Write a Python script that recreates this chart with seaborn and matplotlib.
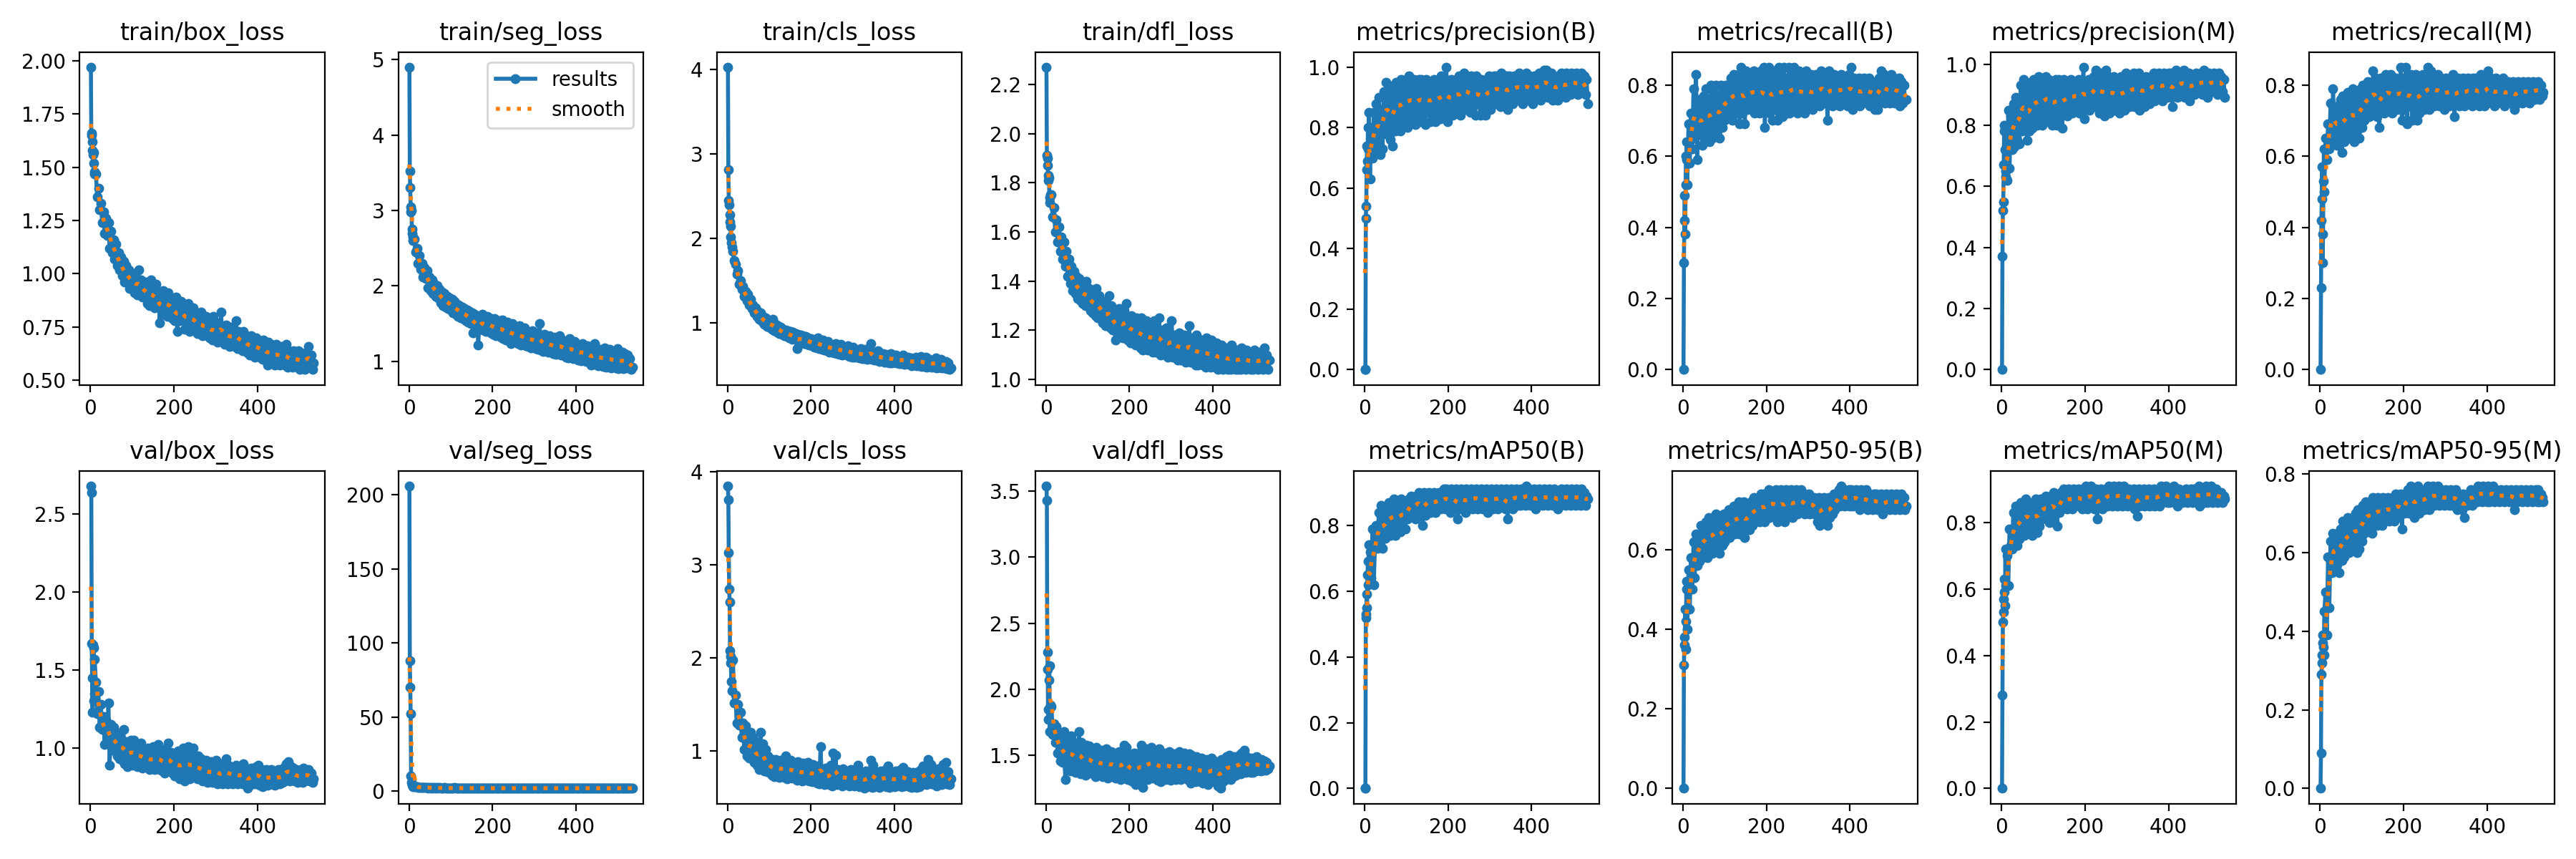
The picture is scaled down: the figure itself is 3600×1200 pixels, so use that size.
import numpy as np
import matplotlib
matplotlib.use("Agg")
import matplotlib.pyplot as plt
from matplotlib.ticker import MultipleLocator
import seaborn as sns

# epochs sampled: every epoch for 1..10, then every 3 epochs from 13 to 535
epochs = list(range(1, 11)) + list(range(13, 536, 3))

titles = ["train/box_loss", "train/seg_loss", "train/cls_loss", "train/dfl_loss",
          "metrics/precision(B)", "metrics/recall(B)", "metrics/precision(M)", "metrics/recall(M)",
          "val/box_loss", "val/seg_loss", "val/cls_loss", "val/dfl_loss",
          "metrics/mAP50(B)", "metrics/mAP50-95(B)", "metrics/mAP50(M)", "metrics/mAP50-95(M)"]

train_box_loss = [1.97, 1.65, 1.66, 1.62, 1.58, 1.56, 1.52, 1.57, 1.47, 1.48,
    1.47, 1.36, 1.40, 1.30, 1.33, 1.24, 1.29, 1.19, 1.26, 1.18,
    1.24, 1.12, 1.20, 1.10, 1.16, 1.07, 1.14, 1.04, 1.10, 1.02,
    1.08, 0.99, 1.06, 0.96, 1.04, 0.97, 1.02, 0.93, 1.00, 0.95,
    1.00, 0.91, 0.98, 0.90, 1.02, 0.92, 0.97, 0.89, 0.95, 0.90,
    0.96, 0.86, 0.93, 0.85, 0.97, 0.87, 0.92, 0.84, 0.95, 0.86,
    0.91, 0.77, 0.90, 0.81, 0.92, 0.83, 0.89, 0.80, 0.91, 0.82,
    0.88, 0.79, 0.86, 0.78, 0.89, 0.73, 0.85, 0.78, 0.87, 0.79,
    0.85, 0.74, 0.83, 0.76, 0.86, 0.73, 0.82, 0.75, 0.84, 0.74,
    0.81, 0.72, 0.79, 0.73, 0.82, 0.71, 0.78, 0.72, 0.80, 0.71,
    0.79, 0.70, 0.76, 0.69, 0.80, 0.70, 0.75, 0.68, 0.77, 0.70,
    0.82, 0.68, 0.75, 0.67, 0.76, 0.68, 0.74, 0.66, 0.75, 0.67,
    0.74, 0.66, 0.78, 0.65, 0.73, 0.66, 0.72, 0.64, 0.73, 0.65,
    0.71, 0.63, 0.70, 0.62, 0.71, 0.63, 0.69, 0.61, 0.70, 0.62,
    0.69, 0.61, 0.68, 0.60, 0.69, 0.61, 0.67, 0.57, 0.68, 0.60,
    0.67, 0.58, 0.66, 0.57, 0.67, 0.59, 0.65, 0.57, 0.66, 0.58,
    0.65, 0.57, 0.67, 0.56, 0.64, 0.57, 0.63, 0.56, 0.64, 0.57,
    0.63, 0.56, 0.64, 0.55, 0.63, 0.56, 0.62, 0.55, 0.63, 0.57,
    0.66, 0.57, 0.62, 0.55, 0.58]

train_seg_loss = [4.90, 3.52, 3.30, 3.05, 2.98, 3.00, 2.75, 2.70, 2.65, 2.60,
    2.62, 2.45, 2.50, 2.30, 2.40, 2.22, 2.30, 2.12, 2.24, 2.10,
    2.20, 1.98, 2.12, 1.94, 2.08, 1.90, 2.02, 1.86, 2.00, 1.84,
    1.96, 1.78, 1.92, 1.74, 1.90, 1.72, 1.86, 1.70, 1.84, 1.68,
    1.82, 1.64, 1.80, 1.62, 1.76, 1.60, 1.74, 1.58, 1.72, 1.57,
    1.70, 1.54, 1.68, 1.52, 1.66, 1.50, 1.64, 1.38, 1.62, 1.48,
    1.60, 1.22, 1.58, 1.44, 1.62, 1.42, 1.56, 1.40, 1.60, 1.41,
    1.58, 1.38, 1.55, 1.36, 1.57, 1.34, 1.52, 1.35, 1.54, 1.32,
    1.55, 1.30, 1.50, 1.28, 1.52, 1.30, 1.48, 1.24, 1.50, 1.27,
    1.46, 1.26, 1.44, 1.24, 1.47, 1.22, 1.42, 1.23, 1.44, 1.21,
    1.40, 1.20, 1.38, 1.18, 1.41, 1.19, 1.36, 1.17, 1.38, 1.16,
    1.50, 1.15, 1.33, 1.13, 1.36, 1.14, 1.31, 1.12, 1.34, 1.13,
    1.30, 1.10, 1.32, 1.09, 1.29, 1.11, 1.34, 1.08, 1.28, 1.10,
    1.26, 1.06, 1.25, 1.05, 1.30, 1.07, 1.24, 1.04, 1.26, 1.06,
    1.22, 1.02, 1.20, 1.01, 1.24, 1.03, 1.19, 1.00, 1.21, 1.02,
    1.17, 0.95, 1.15, 0.96, 1.24, 0.98, 1.14, 0.94, 1.16, 0.97,
    1.12, 0.93, 1.18, 0.92, 1.10, 0.94, 1.16, 0.91, 1.12, 0.93,
    1.10, 0.91, 1.17, 0.90, 1.08, 0.92, 1.12, 0.90, 1.10, 0.91,
    1.08, 0.92, 1.04, 0.89, 0.92]

train_cls_loss = [4.03, 2.82, 2.45, 2.40, 2.28, 2.20, 2.15, 2.02, 1.95, 1.90,
    1.85, 1.74, 1.70, 1.58, 1.62, 1.46, 1.50, 1.40, 1.44, 1.32,
    1.38, 1.27, 1.34, 1.22, 1.28, 1.17, 1.22, 1.12, 1.18, 1.08,
    1.14, 1.05, 1.12, 1.02, 1.08, 0.99, 1.06, 0.96, 1.04, 0.95,
    1.02, 0.93, 1.05, 0.91, 0.99, 0.89, 0.97, 0.88, 0.95, 0.87,
    0.93, 0.85, 0.92, 0.84, 0.91, 0.83, 0.90, 0.81, 0.89, 0.82,
    0.88, 0.70, 0.87, 0.78, 0.86, 0.77, 0.85, 0.76, 0.84, 0.75,
    0.83, 0.74, 0.82, 0.73, 0.81, 0.72, 0.80, 0.71, 0.83, 0.70,
    0.78, 0.69, 0.80, 0.68, 0.76, 0.67, 0.78, 0.66, 0.75, 0.66,
    0.74, 0.65, 0.76, 0.64, 0.73, 0.63, 0.75, 0.62, 0.72, 0.63,
    0.71, 0.62, 0.73, 0.61, 0.70, 0.60, 0.72, 0.60, 0.69, 0.60,
    0.68, 0.59, 0.70, 0.58, 0.67, 0.58, 0.69, 0.57, 0.66, 0.58,
    0.76, 0.57, 0.66, 0.56, 0.64, 0.56, 0.67, 0.55, 0.63, 0.56,
    0.64, 0.54, 0.63, 0.54, 0.62, 0.53, 0.64, 0.53, 0.61, 0.54,
    0.62, 0.53, 0.61, 0.52, 0.60, 0.52, 0.62, 0.51, 0.59, 0.52,
    0.60, 0.51, 0.59, 0.50, 0.58, 0.51, 0.60, 0.50, 0.58, 0.50,
    0.61, 0.49, 0.57, 0.49, 0.60, 0.48, 0.58, 0.49, 0.56, 0.48,
    0.56, 0.48, 0.59, 0.47, 0.55, 0.48, 0.57, 0.47, 0.54, 0.47,
    0.55, 0.46, 0.53, 0.45, 0.47]

train_dfl_loss = [2.27, 1.91, 1.90, 1.87, 1.83, 1.81, 1.82, 1.74, 1.72, 1.75,
    1.75, 1.66, 1.70, 1.60, 1.65, 1.56, 1.62, 1.52, 1.58, 1.49,
    1.56, 1.46, 1.52, 1.42, 1.49, 1.39, 1.46, 1.36, 1.44, 1.35,
    1.42, 1.33, 1.41, 1.32, 1.40, 1.31, 1.38, 1.30, 1.40, 1.30,
    1.37, 1.28, 1.36, 1.27, 1.35, 1.26, 1.37, 1.25, 1.34, 1.25,
    1.32, 1.23, 1.31, 1.22, 1.30, 1.22, 1.34, 1.21, 1.30, 1.20,
    1.28, 1.16, 1.27, 1.19, 1.29, 1.18, 1.26, 1.17, 1.28, 1.18,
    1.31, 1.16, 1.25, 1.15, 1.26, 1.16, 1.24, 1.14, 1.25, 1.15,
    1.23, 1.13, 1.25, 1.12, 1.22, 1.13, 1.24, 1.12, 1.21, 1.13,
    1.22, 1.11, 1.24, 1.11, 1.21, 1.12, 1.25, 1.10, 1.20, 1.11,
    1.19, 1.10, 1.21, 1.09, 1.18, 1.10, 1.24, 1.09, 1.18, 1.10,
    1.18, 1.08, 1.19, 1.08, 1.17, 1.09, 1.18, 1.07, 1.16, 1.08,
    1.22, 1.07, 1.17, 1.07, 1.16, 1.06, 1.18, 1.06, 1.15, 1.07,
    1.16, 1.06, 1.15, 1.05, 1.17, 1.06, 1.14, 1.05, 1.16, 1.06,
    1.14, 1.05, 1.15, 1.04, 1.13, 1.05, 1.14, 1.04, 1.13, 1.05,
    1.13, 1.04, 1.12, 1.04, 1.14, 1.05, 1.11, 1.04, 1.12, 1.04,
    1.12, 1.04, 1.13, 1.05, 1.11, 1.04, 1.12, 1.05, 1.10, 1.04,
    1.11, 1.04, 1.12, 1.05, 1.10, 1.04, 1.11, 1.05, 1.10, 1.04,
    1.13, 1.05, 1.10, 1.04, 1.08]

precision_B = [0.00, 0.00, 0.50, 0.54, 0.66, 0.74, 0.69, 0.80, 0.73, 0.85,
    0.63, 0.80, 0.70, 0.85, 0.72, 0.88, 0.74, 0.90, 0.71, 0.86,
    0.73, 0.92, 0.78, 0.95, 0.80, 0.93, 0.76, 0.91, 0.74, 0.94,
    0.79, 0.95, 0.82, 0.93, 0.79, 0.96, 0.81, 0.94, 0.83, 0.96,
    0.80, 0.97, 0.82, 0.95, 0.84, 0.96, 0.81, 0.94, 0.83, 0.96,
    0.82, 0.96, 0.84, 0.95, 0.81, 0.96, 0.85, 0.94, 0.82, 0.95,
    0.84, 0.96, 0.82, 0.94, 0.86, 0.95, 0.83, 0.97, 0.85, 0.94,
    0.86, 1.00, 0.82, 0.95, 0.85, 0.96, 0.84, 0.94, 0.87, 0.96,
    0.86, 0.97, 0.84, 0.96, 0.88, 0.98, 0.86, 0.97, 0.88, 0.96,
    0.85, 0.97, 0.87, 0.96, 0.84, 0.97, 0.88, 0.95, 0.84, 0.96,
    0.87, 0.95, 0.84, 0.96, 0.88, 0.97, 0.86, 0.96, 0.89, 0.97,
    0.88, 0.97, 0.90, 0.96, 0.87, 0.98, 0.89, 0.96, 0.90, 0.97,
    0.86, 0.97, 0.90, 0.96, 0.88, 0.97, 0.91, 0.96, 0.89, 0.98,
    0.90, 0.97, 0.88, 0.96, 0.91, 0.98, 0.89, 0.97, 0.90, 0.96,
    0.88, 0.97, 0.91, 0.96, 0.90, 0.98, 0.89, 0.97, 0.91, 0.99,
    0.92, 0.99, 0.90, 0.97, 0.92, 0.98, 0.89, 0.97, 0.91, 0.96,
    0.89, 0.97, 0.92, 0.98, 0.91, 0.97, 0.90, 0.98, 0.92, 0.97,
    0.91, 0.98, 0.93, 0.97, 0.92, 0.98, 0.91, 0.97, 0.93, 0.98,
    0.93, 0.97, 0.91, 0.96, 0.88]

recall_B = [0.00, 0.30, 0.42, 0.49, 0.38, 0.52, 0.60, 0.59, 0.64, 0.52,
    0.69, 0.58, 0.72, 0.62, 0.79, 0.65, 0.83, 0.59, 0.76, 0.66,
    0.75, 0.63, 0.77, 0.64, 0.79, 0.66, 0.76, 0.64, 0.80, 0.65,
    0.78, 0.66, 0.80, 0.67, 0.77, 0.65, 0.80, 0.68, 0.79, 0.70,
    0.80, 0.71, 0.79, 0.72, 0.82, 0.70, 0.83, 0.73, 0.81, 0.72,
    0.83, 0.69, 0.85, 0.72, 0.82, 0.69, 0.84, 0.73, 0.81, 0.74,
    0.82, 0.73, 0.84, 0.72, 0.83, 0.74, 0.81, 0.72, 0.84, 0.73,
    0.85, 0.68, 0.83, 0.74, 0.85, 0.72, 0.82, 0.70, 0.84, 0.73,
    0.83, 0.70, 0.85, 0.72, 0.84, 0.71, 0.85, 0.73, 0.82, 0.72,
    0.85, 0.72, 0.84, 0.73, 0.85, 0.74, 0.83, 0.72, 0.84, 0.73,
    0.83, 0.74, 0.82, 0.72, 0.84, 0.75, 0.81, 0.74, 0.83, 0.73,
    0.82, 0.74, 0.83, 0.75, 0.81, 0.74, 0.84, 0.76, 0.82, 0.75,
    0.83, 0.70, 0.84, 0.75, 0.82, 0.74, 0.83, 0.75, 0.81, 0.76,
    0.82, 0.74, 0.83, 0.75, 0.82, 0.76, 0.81, 0.74, 0.83, 0.75,
    0.85, 0.73, 0.82, 0.75, 0.81, 0.76, 0.82, 0.74, 0.81, 0.75,
    0.82, 0.76, 0.81, 0.75, 0.82, 0.74, 0.81, 0.76, 0.80, 0.73,
    0.81, 0.73, 0.82, 0.75, 0.84, 0.76, 0.83, 0.75, 0.82, 0.76,
    0.81, 0.75, 0.83, 0.76, 0.82, 0.75, 0.81, 0.76, 0.82, 0.74,
    0.81, 0.75, 0.80, 0.76, 0.76]

precision_M = [0.00, 0.37, 0.52, 0.55, 0.67, 0.78, 0.80, 0.72, 0.65, 0.63,
    0.62, 0.85, 0.66, 0.83, 0.72, 0.87, 0.73, 0.89, 0.75, 0.86,
    0.74, 0.93, 0.78, 0.95, 0.80, 0.92, 0.75, 0.90, 0.78, 0.94,
    0.79, 0.95, 0.81, 0.93, 0.80, 0.96, 0.82, 0.94, 0.80, 0.95,
    0.81, 0.96, 0.82, 0.95, 0.83, 0.94, 0.80, 0.93, 0.82, 0.95,
    0.80, 0.95, 0.82, 0.94, 0.79, 0.95, 0.84, 0.93, 0.83, 0.94,
    0.85, 0.95, 0.84, 0.93, 0.86, 0.94, 0.85, 0.95, 0.84, 0.93,
    0.86, 0.99, 0.82, 0.94, 0.87, 0.95, 0.85, 0.93, 0.87, 0.96,
    0.86, 0.98, 0.88, 0.96, 0.84, 0.97, 0.87, 0.96, 0.83, 0.98,
    0.86, 0.96, 0.84, 0.95, 0.87, 0.96, 0.85, 0.94, 0.86, 0.95,
    0.84, 0.96, 0.86, 0.95, 0.85, 0.97, 0.87, 0.95, 0.86, 0.96,
    0.88, 0.97, 0.86, 0.96, 0.89, 0.97, 0.85, 0.96, 0.88, 0.95,
    0.86, 0.96, 0.89, 0.95, 0.87, 0.96, 0.90, 0.97, 0.88, 0.96,
    0.89, 0.97, 0.90, 0.96, 0.88, 0.97, 0.91, 0.96, 0.89, 0.97,
    0.90, 0.97, 0.86, 0.96, 0.91, 0.98, 0.89, 0.96, 0.90, 0.97,
    0.91, 0.98, 0.89, 0.96, 0.90, 0.97, 0.88, 0.96, 0.91, 0.95,
    0.90, 0.97, 0.92, 0.96, 0.91, 0.97, 0.90, 0.98, 0.92, 0.96,
    0.89, 0.97, 0.92, 0.96, 0.91, 0.97, 0.92, 0.96, 0.90, 0.97,
    0.93, 0.96, 0.91, 0.95, 0.89]

recall_M = [0.00, 0.23, 0.42, 0.48, 0.57, 0.30, 0.38, 0.53, 0.62, 0.50,
    0.65, 0.59, 0.69, 0.62, 0.75, 0.64, 0.79, 0.66, 0.72, 0.63,
    0.74, 0.65, 0.76, 0.61, 0.77, 0.64, 0.75, 0.66, 0.78, 0.65,
    0.77, 0.66, 0.79, 0.64, 0.76, 0.67, 0.78, 0.65, 0.79, 0.68,
    0.80, 0.70, 0.79, 0.72, 0.81, 0.71, 0.80, 0.72, 0.84, 0.73,
    0.82, 0.71, 0.80, 0.68, 0.82, 0.73, 0.81, 0.72, 0.83, 0.74,
    0.82, 0.73, 0.83, 0.72, 0.81, 0.74, 0.82, 0.73, 0.80, 0.74,
    0.85, 0.70, 0.82, 0.73, 0.85, 0.69, 0.81, 0.74, 0.83, 0.70,
    0.82, 0.71, 0.83, 0.70, 0.82, 0.72, 0.81, 0.74, 0.83, 0.73,
    0.82, 0.74, 0.85, 0.73, 0.84, 0.75, 0.83, 0.74, 0.82, 0.75,
    0.83, 0.74, 0.82, 0.75, 0.81, 0.73, 0.82, 0.75, 0.81, 0.74,
    0.82, 0.75, 0.83, 0.71, 0.81, 0.75, 0.82, 0.74, 0.81, 0.76,
    0.82, 0.74, 0.81, 0.75, 0.82, 0.76, 0.81, 0.74, 0.82, 0.76,
    0.82, 0.75, 0.81, 0.74, 0.83, 0.76, 0.81, 0.74, 0.82, 0.75,
    0.84, 0.76, 0.82, 0.75, 0.81, 0.74, 0.82, 0.75, 0.81, 0.76,
    0.81, 0.75, 0.82, 0.74, 0.80, 0.76, 0.81, 0.75, 0.80, 0.76,
    0.81, 0.73, 0.80, 0.75, 0.81, 0.76, 0.80, 0.75, 0.81, 0.76,
    0.80, 0.76, 0.81, 0.75, 0.80, 0.76, 0.81, 0.76, 0.80, 0.77,
    0.81, 0.76, 0.80, 0.77, 0.78]

val_box_loss = [2.68, 2.64, 1.67, 1.45, 1.23, 1.66, 1.30, 1.64, 1.35, 1.57,
    1.42, 1.22, 1.36, 1.13, 1.28, 1.12, 1.20, 1.02, 1.18, 1.05,
    1.29, 0.89, 1.15, 1.00, 1.13, 0.98, 1.10, 0.95, 1.09, 0.93,
    1.06, 0.92, 1.12, 0.90, 1.04, 0.88, 1.02, 0.91, 1.05, 0.89,
    1.05, 0.90, 1.02, 0.88, 1.00, 0.89, 1.03, 0.87, 0.99, 0.88,
    0.98, 0.88, 1.00, 0.86, 0.97, 0.87, 1.01, 0.86, 0.96, 0.87,
    1.02, 0.86, 0.97, 0.85, 0.99, 0.84, 0.95, 0.86, 1.03, 0.85,
    0.97, 0.84, 0.96, 0.82, 0.95, 0.83, 0.98, 0.80, 0.94, 0.82,
    1.00, 0.79, 0.96, 0.82, 1.01, 0.80, 0.94, 0.81, 1.00, 0.82,
    0.92, 0.80, 0.95, 0.81, 0.93, 0.79, 0.91, 0.80, 0.92, 0.78,
    0.90, 0.79, 0.91, 0.78, 0.89, 0.80, 0.92, 0.77, 0.90, 0.78,
    0.88, 0.77, 0.90, 0.78, 0.93, 0.77, 0.89, 0.79, 0.88, 0.77,
    0.87, 0.78, 0.89, 0.77, 0.86, 0.78, 0.88, 0.77, 0.90, 0.78,
    0.85, 0.74, 0.84, 0.76, 0.87, 0.78, 0.85, 0.77, 0.88, 0.77,
    0.89, 0.76, 0.86, 0.75, 0.84, 0.77, 0.86, 0.76, 0.85, 0.77,
    0.86, 0.77, 0.85, 0.76, 0.84, 0.78, 0.86, 0.77, 0.83, 0.78,
    0.87, 0.79, 0.90, 0.80, 0.91, 0.79, 0.88, 0.81, 0.87, 0.79,
    0.86, 0.78, 0.85, 0.79, 0.86, 0.78, 0.87, 0.79, 0.85, 0.80,
    0.86, 0.79, 0.84, 0.78, 0.80]

val_seg_loss = [206.0, 88.0, 70.0, 52.0, 10.0, 6.0, 5.0, 4.0, 3.5, 3.0,
    2.9, 2.7, 2.8, 2.5, 2.6, 2.4, 2.5, 2.3, 2.4, 2.2,
    2.4, 2.1, 2.3, 2.1, 2.2, 2.0, 2.3, 2.0, 2.2, 2.0,
    2.2, 1.9, 2.1, 1.9, 2.2, 1.8, 2.1, 1.9, 2.0, 1.8,
    2.1, 1.8, 2.2, 1.9, 2.0, 1.8, 2.1, 1.8, 2.0, 1.9,
    2.1, 1.8, 2.0, 1.8, 2.1, 1.9, 2.0, 1.8, 2.1, 1.8,
    2.0, 1.8, 2.1, 1.7, 2.0, 1.8, 2.1, 1.8, 2.0, 1.7,
    2.1, 1.8, 2.0, 1.7, 2.1, 1.8, 2.0, 1.8, 2.1, 1.7,
    2.0, 1.7, 2.1, 1.8, 2.0, 1.7, 2.0, 1.8, 2.1, 1.7,
    2.0, 1.8, 2.0, 1.7, 2.1, 1.8, 2.0, 1.7, 2.0, 1.8,
    2.1, 1.7, 2.0, 1.8, 2.0, 1.7, 2.1, 1.8, 2.0, 1.7,
    2.0, 1.7, 2.0, 1.8, 2.1, 1.7, 2.0, 1.8, 2.0, 1.7,
    2.1, 1.8, 2.0, 1.7, 2.0, 1.8, 2.1, 1.7, 2.0, 1.8,
    2.0, 1.7, 2.1, 1.8, 2.0, 1.7, 2.0, 1.8, 2.1, 1.7,
    2.0, 1.8, 2.0, 1.7, 2.1, 1.8, 2.0, 1.7, 2.0, 1.8,
    2.1, 1.7, 2.0, 1.8, 2.0, 1.7, 2.1, 1.8, 2.0, 1.7,
    2.0, 1.8, 2.1, 1.7, 2.0, 1.8, 2.0, 1.7, 2.1, 1.8,
    2.0, 1.7, 2.0, 1.8, 2.1, 1.7, 2.0, 1.8, 2.0, 1.7,
    2.1, 1.8, 2.0, 1.7, 1.9]

val_cls_loss = [3.85, 3.70, 3.13, 2.74, 2.60, 2.08, 2.02, 1.95, 1.75, 1.65,
    1.98, 1.52, 1.60, 1.30, 1.50, 1.28, 1.42, 1.15, 1.30, 1.02,
    1.27, 0.95, 1.12, 0.93, 1.20, 0.96, 1.15, 0.88, 1.10, 0.85,
    1.05, 0.80, 1.20, 0.84, 1.08, 0.79, 1.02, 0.78, 0.95, 0.77,
    0.92, 0.74, 0.89, 0.73, 0.91, 0.75, 0.88, 0.72, 0.90, 0.74,
    0.88, 0.72, 0.95, 0.70, 0.86, 0.73, 0.90, 0.71, 0.87, 0.72,
    0.85, 0.69, 0.89, 0.70, 0.84, 0.68, 0.87, 0.70, 0.85, 0.69,
    0.88, 0.68, 0.83, 0.67, 0.86, 0.69, 0.82, 0.66, 0.84, 0.65,
    1.05, 0.66, 0.80, 0.64, 0.82, 0.66, 0.79, 0.64, 0.85, 0.63,
    0.98, 0.65, 0.96, 0.64, 0.80, 0.66, 0.78, 0.63, 0.81, 0.64,
    0.79, 0.64, 0.77, 0.63, 0.80, 0.65, 0.76, 0.63, 0.78, 0.64,
    0.85, 0.62, 0.78, 0.63, 0.76, 0.60, 0.79, 0.62, 0.77, 0.63,
    0.90, 0.61, 0.85, 0.62, 0.78, 0.63, 0.76, 0.61, 0.79, 0.64,
    0.77, 0.63, 0.80, 0.62, 0.84, 0.61, 0.78, 0.63, 0.76, 0.62,
    0.79, 0.63, 0.77, 0.64, 0.80, 0.62, 0.83, 0.63, 0.76, 0.64,
    0.78, 0.62, 0.75, 0.61, 0.77, 0.63, 0.74, 0.61, 0.78, 0.62,
    0.80, 0.64, 0.84, 0.65, 0.82, 0.64, 0.91, 0.66, 0.86, 0.65,
    0.80, 0.64, 0.78, 0.63, 0.81, 0.65, 0.77, 0.64, 0.86, 0.66,
    0.88, 0.65, 0.78, 0.64, 0.70]

val_dfl_loss = [3.54, 3.43, 2.28, 2.15, 1.77, 1.85, 2.07, 2.18, 1.68, 1.88,
    1.87, 1.66, 1.74, 1.60, 1.72, 1.52, 1.66, 1.46, 1.62, 1.45,
    1.68, 1.32, 1.64, 1.40, 1.62, 1.38, 1.65, 1.40, 1.60, 1.37,
    1.58, 1.38, 1.68, 1.36, 1.60, 1.37, 1.56, 1.35, 1.58, 1.38,
    1.57, 1.37, 1.55, 1.36, 1.53, 1.34, 1.56, 1.36, 1.52, 1.35,
    1.54, 1.34, 1.52, 1.36, 1.55, 1.33, 1.51, 1.35, 1.53, 1.34,
    1.52, 1.33, 1.50, 1.34, 1.53, 1.32, 1.49, 1.34, 1.58, 1.33,
    1.56, 1.32, 1.50, 1.31, 1.48, 1.30, 1.52, 1.28, 1.49, 1.30,
    1.52, 1.29, 1.58, 1.26, 1.50, 1.33, 1.55, 1.32, 1.53, 1.34,
    1.56, 1.33, 1.54, 1.35, 1.52, 1.31, 1.55, 1.30, 1.50, 1.33,
    1.52, 1.32, 1.50, 1.34, 1.53, 1.31, 1.49, 1.33, 1.51, 1.32,
    1.50, 1.33, 1.53, 1.32, 1.49, 1.34, 1.52, 1.33, 1.48, 1.32,
    1.51, 1.29, 1.50, 1.32, 1.47, 1.30, 1.49, 1.31, 1.46, 1.30,
    1.48, 1.29, 1.46, 1.31, 1.47, 1.28, 1.45, 1.30, 1.48, 1.31,
    1.46, 1.30, 1.45, 1.27, 1.44, 1.25, 1.47, 1.30, 1.46, 1.32,
    1.49, 1.33, 1.50, 1.32, 1.47, 1.34, 1.49, 1.35, 1.48, 1.36,
    1.50, 1.36, 1.52, 1.38, 1.54, 1.37, 1.49, 1.38, 1.47, 1.37,
    1.48, 1.37, 1.47, 1.38, 1.49, 1.39, 1.46, 1.38, 1.47, 1.39,
    1.46, 1.39, 1.45, 1.40, 1.42]

mAP50_B = [0.00, 0.00, 0.52, 0.53, 0.59, 0.55, 0.65, 0.69, 0.62, 0.74,
    0.72, 0.64, 0.79, 0.62, 0.74, 0.80, 0.73, 0.84, 0.75, 0.86,
    0.73, 0.85, 0.76, 0.84, 0.78, 0.87, 0.77, 0.86, 0.79, 0.88,
    0.77, 0.87, 0.79, 0.86, 0.78, 0.88, 0.80, 0.87, 0.79, 0.86,
    0.82, 0.88, 0.83, 0.89, 0.84, 0.88, 0.82, 0.89, 0.85, 0.90,
    0.84, 0.89, 0.80, 0.90, 0.83, 0.89, 0.85, 0.90, 0.84, 0.89,
    0.85, 0.90, 0.84, 0.89, 0.86, 0.90, 0.85, 0.89, 0.86, 0.91,
    0.85, 0.91, 0.86, 0.90, 0.84, 0.91, 0.86, 0.90, 0.85, 0.91,
    0.82, 0.90, 0.85, 0.91, 0.86, 0.90, 0.84, 0.91, 0.85, 0.90,
    0.86, 0.91, 0.85, 0.90, 0.87, 0.91, 0.85, 0.90, 0.86, 0.91,
    0.85, 0.90, 0.86, 0.91, 0.84, 0.90, 0.86, 0.91, 0.85, 0.90,
    0.86, 0.91, 0.85, 0.90, 0.87, 0.91, 0.86, 0.90, 0.85, 0.91,
    0.82, 0.90, 0.86, 0.91, 0.85, 0.90, 0.87, 0.91, 0.86, 0.90,
    0.86, 0.91, 0.87, 0.90, 0.86, 0.92, 0.87, 0.91, 0.86, 0.90,
    0.87, 0.91, 0.85, 0.90, 0.86, 0.91, 0.87, 0.90, 0.86, 0.91,
    0.87, 0.90, 0.86, 0.91, 0.87, 0.90, 0.86, 0.91, 0.87, 0.90,
    0.85, 0.90, 0.86, 0.91, 0.87, 0.90, 0.86, 0.91, 0.87, 0.90,
    0.86, 0.91, 0.87, 0.90, 0.86, 0.91, 0.87, 0.90, 0.86, 0.91,
    0.87, 0.90, 0.86, 0.89, 0.88]

mAP50_95_B = [0.00, 0.31, 0.36, 0.38, 0.45, 0.35, 0.42, 0.52, 0.50, 0.40,
    0.55, 0.45, 0.58, 0.50, 0.62, 0.53, 0.64, 0.56, 0.62, 0.57,
    0.66, 0.58, 0.65, 0.59, 0.67, 0.58, 0.68, 0.60, 0.67, 0.59,
    0.68, 0.60, 0.69, 0.61, 0.68, 0.59, 0.67, 0.61, 0.69, 0.62,
    0.69, 0.64, 0.70, 0.63, 0.69, 0.65, 0.71, 0.64, 0.70, 0.65,
    0.72, 0.64, 0.71, 0.66, 0.72, 0.63, 0.70, 0.66, 0.71, 0.65,
    0.72, 0.66, 0.73, 0.67, 0.72, 0.68, 0.73, 0.67, 0.74, 0.68,
    0.74, 0.67, 0.73, 0.69, 0.75, 0.68, 0.74, 0.70, 0.73, 0.69,
    0.75, 0.67, 0.74, 0.68, 0.75, 0.69, 0.74, 0.67, 0.75, 0.70,
    0.74, 0.69, 0.75, 0.68, 0.74, 0.70, 0.75, 0.69, 0.74, 0.70,
    0.75, 0.70, 0.74, 0.69, 0.73, 0.70, 0.74, 0.69, 0.73, 0.70,
    0.73, 0.69, 0.72, 0.67, 0.73, 0.66, 0.72, 0.68, 0.73, 0.69,
    0.72, 0.66, 0.73, 0.68, 0.72, 0.69, 0.74, 0.70, 0.73, 0.71,
    0.75, 0.71, 0.76, 0.72, 0.75, 0.71, 0.74, 0.72, 0.75, 0.71,
    0.75, 0.71, 0.74, 0.72, 0.75, 0.71, 0.74, 0.70, 0.75, 0.71,
    0.74, 0.71, 0.75, 0.70, 0.74, 0.71, 0.73, 0.70, 0.74, 0.71,
    0.74, 0.70, 0.73, 0.71, 0.74, 0.69, 0.73, 0.70, 0.74, 0.71,
    0.73, 0.70, 0.74, 0.71, 0.73, 0.70, 0.74, 0.71, 0.73, 0.70,
    0.74, 0.71, 0.73, 0.70, 0.71]

mAP50_M = [0.00, 0.28, 0.50, 0.53, 0.57, 0.59, 0.63, 0.55, 0.72, 0.61,
    0.70, 0.61, 0.78, 0.73, 0.72, 0.83, 0.74, 0.85, 0.73, 0.84,
    0.75, 0.86, 0.77, 0.85, 0.76, 0.87, 0.78, 0.86, 0.77, 0.85,
    0.76, 0.86, 0.78, 0.87, 0.77, 0.85, 0.79, 0.87, 0.81, 0.86,
    0.82, 0.88, 0.81, 0.87, 0.80, 0.88, 0.83, 0.89, 0.80, 0.88,
    0.79, 0.88, 0.83, 0.89, 0.84, 0.90, 0.85, 0.89, 0.84, 0.90,
    0.85, 0.89, 0.84, 0.90, 0.85, 0.89, 0.86, 0.90, 0.85, 0.89,
    0.84, 0.90, 0.85, 0.91, 0.84, 0.90, 0.86, 0.91, 0.85, 0.90,
    0.84, 0.90, 0.81, 0.89, 0.85, 0.90, 0.84, 0.89, 0.85, 0.90,
    0.85, 0.91, 0.86, 0.90, 0.85, 0.91, 0.86, 0.90, 0.85, 0.91,
    0.86, 0.90, 0.85, 0.91, 0.86, 0.90, 0.85, 0.90, 0.86, 0.89,
    0.85, 0.90, 0.84, 0.89, 0.82, 0.90, 0.85, 0.89, 0.86, 0.90,
    0.85, 0.89, 0.86, 0.90, 0.85, 0.89, 0.86, 0.90, 0.85, 0.89,
    0.86, 0.90, 0.85, 0.91, 0.86, 0.90, 0.87, 0.91, 0.86, 0.90,
    0.86, 0.90, 0.87, 0.91, 0.86, 0.90, 0.85, 0.90, 0.86, 0.89,
    0.86, 0.89, 0.87, 0.90, 0.86, 0.89, 0.87, 0.90, 0.86, 0.90,
    0.87, 0.90, 0.86, 0.91, 0.85, 0.90, 0.87, 0.90, 0.86, 0.91,
    0.86, 0.90, 0.87, 0.91, 0.86, 0.90, 0.87, 0.90, 0.86, 0.89,
    0.87, 0.89, 0.86, 0.88, 0.87]

mAP50_95_M = [0.00, 0.09, 0.29, 0.32, 0.34, 0.37, 0.39, 0.36, 0.34, 0.45,
    0.50, 0.39, 0.59, 0.46, 0.63, 0.55, 0.65, 0.58, 0.64, 0.57,
    0.65, 0.55, 0.66, 0.58, 0.68, 0.59, 0.67, 0.60, 0.69, 0.60,
    0.68, 0.61, 0.69, 0.62, 0.70, 0.60, 0.71, 0.61, 0.70, 0.63,
    0.72, 0.65, 0.73, 0.66, 0.72, 0.67, 0.73, 0.65, 0.74, 0.67,
    0.73, 0.67, 0.74, 0.68, 0.73, 0.67, 0.74, 0.68, 0.73, 0.69,
    0.74, 0.68, 0.73, 0.69, 0.74, 0.68, 0.75, 0.69, 0.74, 0.70,
    0.75, 0.66, 0.74, 0.70, 0.75, 0.71, 0.76, 0.70, 0.77, 0.71,
    0.76, 0.69, 0.75, 0.71, 0.77, 0.70, 0.76, 0.72, 0.75, 0.71,
    0.76, 0.72, 0.77, 0.71, 0.76, 0.73, 0.77, 0.72, 0.76, 0.73,
    0.77, 0.72, 0.76, 0.73, 0.75, 0.72, 0.76, 0.73, 0.75, 0.72,
    0.76, 0.72, 0.75, 0.73, 0.76, 0.71, 0.75, 0.72, 0.74, 0.71,
    0.75, 0.69, 0.74, 0.72, 0.75, 0.73, 0.76, 0.72, 0.75, 0.73,
    0.76, 0.73, 0.77, 0.74, 0.76, 0.73, 0.77, 0.74, 0.76, 0.73,
    0.77, 0.73, 0.76, 0.74, 0.77, 0.73, 0.76, 0.74, 0.75, 0.73,
    0.76, 0.74, 0.75, 0.73, 0.76, 0.74, 0.75, 0.73, 0.76, 0.74,
    0.75, 0.71, 0.76, 0.73, 0.75, 0.74, 0.76, 0.73, 0.75, 0.74,
    0.76, 0.73, 0.75, 0.74, 0.76, 0.73, 0.75, 0.74, 0.76, 0.73,
    0.76, 0.73, 0.75, 0.74, 0.73]

series = [train_box_loss, train_seg_loss, train_cls_loss, train_dfl_loss,
          precision_B, recall_B, precision_M, recall_M,
          val_box_loss, val_seg_loss, val_cls_loss, val_dfl_loss,
          mAP50_B, mAP50_95_B, mAP50_M, mAP50_95_M]

# y tick spacing per panel (styling)
ytick_steps = [0.25, 1, 1, 0.2, 0.2, 0.2, 0.2, 0.2,
               0.5, 50, 1, 0.5, 0.2, 0.2, 0.2, 0.2]


def smooth(x, y):
    """Gaussian-weighted smoothing along the epoch axis."""
    x = np.asarray(x, float)
    y = np.asarray(y, float)
    out = np.empty_like(y)
    for i, xi in enumerate(x):
        s = 3.0 if xi <= 10 else 5.0
        w = np.exp(-0.5 * ((x - xi) / s) ** 2)
        out[i] = np.sum(w * y) / np.sum(w)
    return out


fig, axes = plt.subplots(2, 8, figsize=(18, 6), dpi=200, tight_layout=True)
axes = axes.ravel()
x = np.asarray(epochs, float)
for ax, title, vals, step in zip(axes, titles, series, ytick_steps):
    y = np.asarray(vals, float)
    sns.lineplot(x=x, y=y, ax=ax, marker=".", markersize=8, linewidth=2,
                 color="#1f77b4", markeredgecolor="#1f77b4", markeredgewidth=1.0,
                 label="results", estimator=None, sort=False, legend=False)
    sns.lineplot(x=x, y=smooth(x, y), ax=ax, linestyle=":", linewidth=2,
                 color="#ff7f0e", label="smooth", estimator=None, sort=False, legend=False)
    ax.set_title(title, fontsize=12)
    ax.set_xlabel("")
    ax.set_ylabel("")
    ax.yaxis.set_major_locator(MultipleLocator(step))
axes[1].legend(loc="upper right")
fig.savefig("out.png", dpi=200)
